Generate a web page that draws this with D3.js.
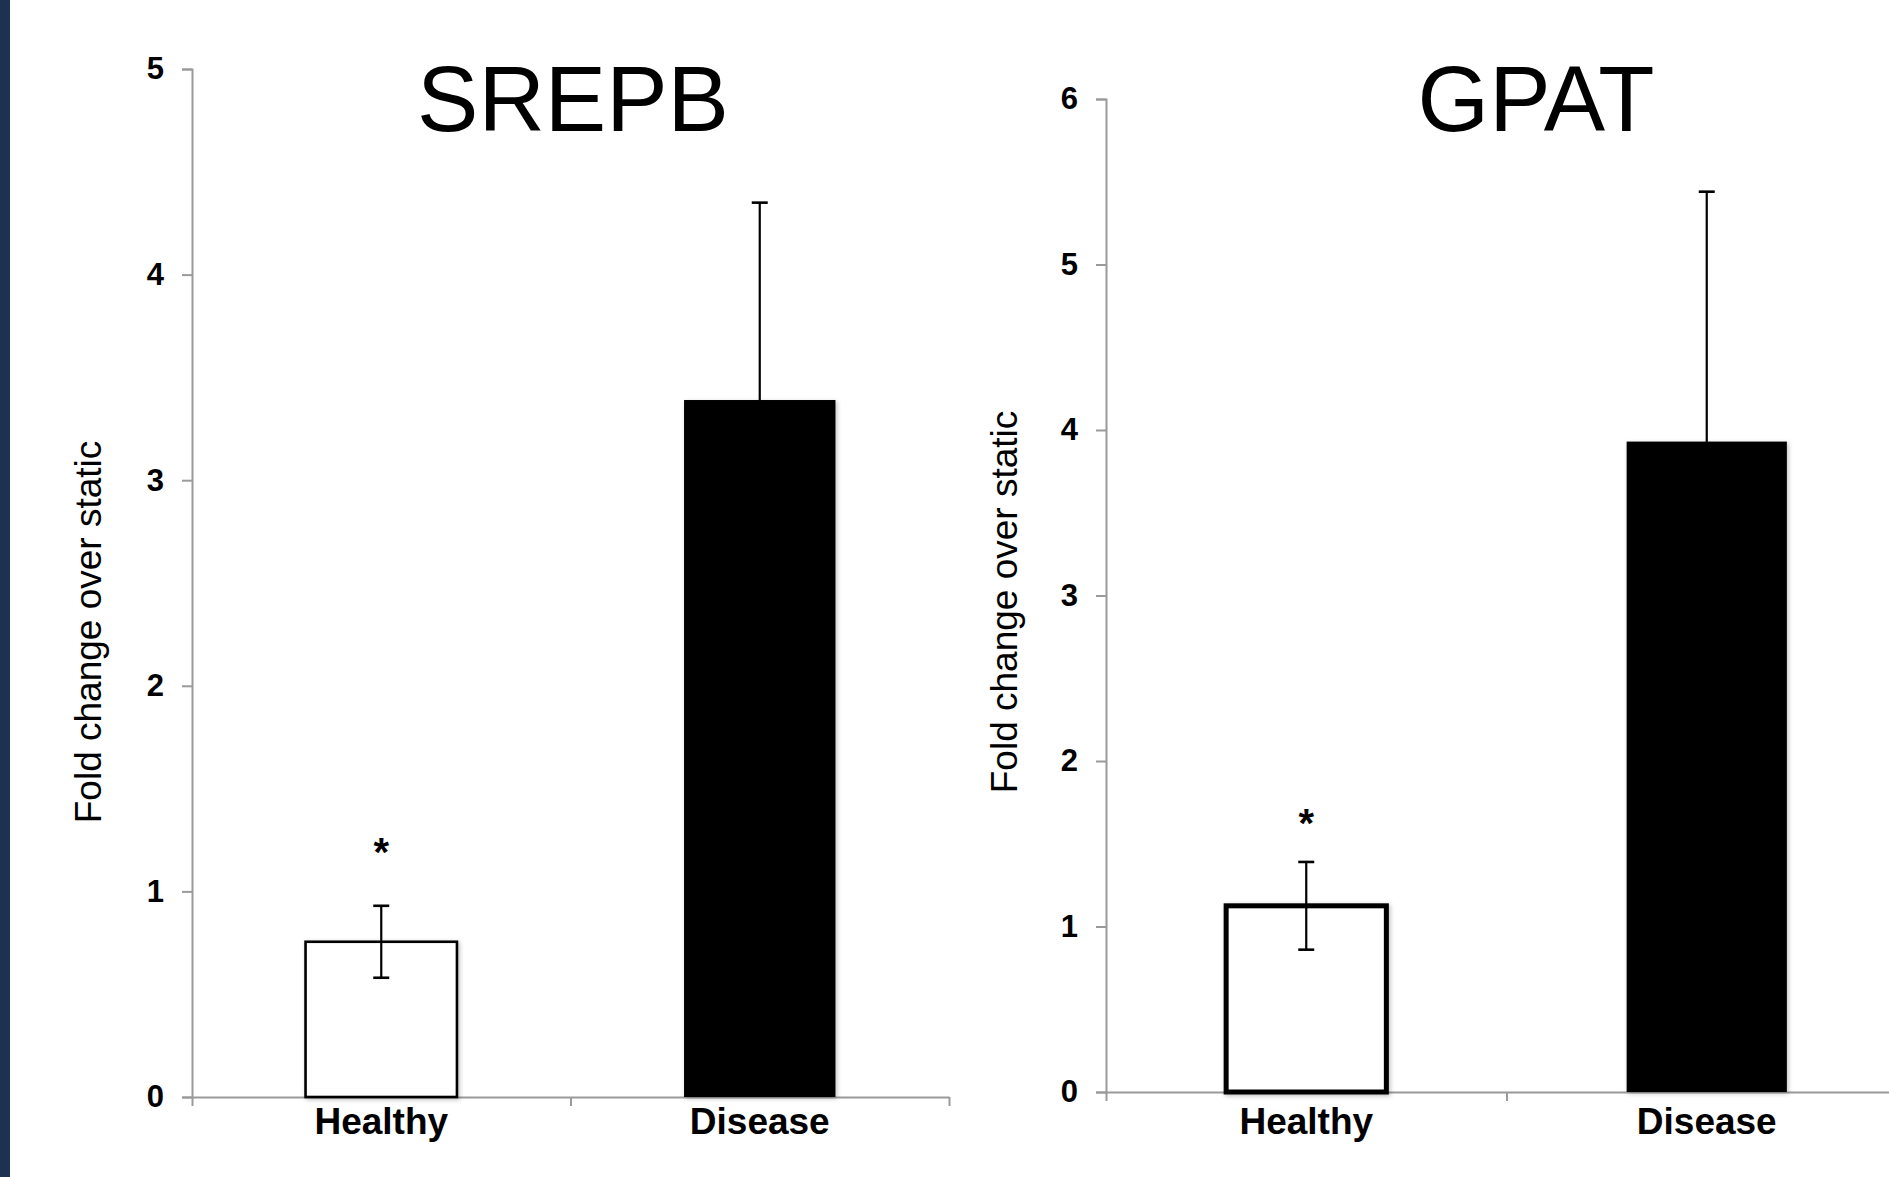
<!DOCTYPE html>
<html>
<head>
<meta charset="utf-8">
<script src="https://cdn.jsdelivr.net/npm/d3@7"></script>
<style>
  body { margin: 0; background: #fff; }
  svg { display: block; font-family: "Liberation Sans", Arial, sans-serif; }
</style>
</head>
<body>
<svg id="chart"></svg>
<script>
const categories = ['Healthy', 'Disease'];
const srepbMeans = [0.755, 3.39];
const srepbErrors = [0.175, 0.96];
const gpatMeans = [1.125, 3.93];
const gpatErrors = [0.265, 1.51];
const sigMarks = ['*', ''];
const srepbTicks = [0, 1, 2, 3, 4, 5];
const gpatTicks = [0, 1, 2, 3, 4, 5, 6];
const yLabel = 'Fold change over static';

const width = 1889, height = 1177;
const svg = d3.select('#chart').attr('width', width).attr('height', height);

// soft shadow like the slide export
const defs = svg.append('defs');
defs.append('filter').attr('id', 'shadow')
  .attr('x', '-10%').attr('y', '-10%').attr('width', '120%').attr('height', '120%')
  .append('feDropShadow')
  .attr('dx', 1.5).attr('dy', 1.5).attr('stdDeviation', 2)
  .attr('flood-color', '#000').attr('flood-opacity', 0.25);

// dark strip on the left edge
svg.append('rect').attr('x', 0).attr('y', 0).attr('width', 10).attr('height', height).attr('fill', '#1d3253');

function drawPanel(opt) {
  const y = d3.scaleLinear().domain([0, d3.max(opt.ticks)]).range([opt.y0, opt.y1]);
  const x = d3.scaleBand().domain(categories).range([opt.x0, opt.x1])
    .paddingInner(0.6).paddingOuter(0.3);
  const xEdge = d3.scaleLinear().domain([0, categories.length]).range([opt.x0, opt.x1]);

  const g = svg.append('g');

  // y axis
  const yAxis = g.append('g')
    .attr('transform', `translate(${opt.x0},0)`)
    .call(d3.axisLeft(y).tickValues(opt.ticks).tickFormat(d3.format('d')).tickSize(10).tickSizeOuter(10).tickPadding(18));
  yAxis.selectAll('path, line').attr('stroke', '#9a9a9a').attr('stroke-width', 2);
  yAxis.selectAll('text').attr('fill', '#000').style('font-size', '31px').style('font-weight', 'bold');

  // x axis with ticks at category boundaries
  const xAxis = g.append('g')
    .attr('transform', `translate(0,${opt.y0})`)
    .call(d3.axisBottom(xEdge).tickValues(d3.range(categories.length + 1)).tickFormat('').tickSize(9).tickSizeOuter(0));
  xAxis.selectAll('path, line').attr('stroke', '#9a9a9a').attr('stroke-width', 2);

  const xLabels = g.append('g')
    .attr('transform', `translate(0,${opt.y0})`)
    .call(d3.axisBottom(x).tickSize(0));
  xLabels.select('.domain').remove();
  xLabels.selectAll('text').attr('fill', '#000').attr('dy', 0).attr('y', 1134 - opt.y0)
    .style('font-size', '37px').style('font-weight', 'bold');

  const rows = categories.map((c, i) => ({ cat: c, mean: opt.means[i], err: opt.errors[i], sig: sigMarks[i], i }));

  // bars
  g.selectAll('rect.bar').data(rows).enter().append('rect')
    .attr('class', 'bar')
    .attr('x', d => x(d.cat))
    .attr('y', d => y(d.mean))
    .attr('width', x.bandwidth())
    .attr('height', d => y(0) - y(d.mean))
    .attr('fill', d => d.i === 0 ? '#fff' : '#000')
    .attr('stroke', '#000')
    .attr('stroke-width', d => d.i === 0 ? opt.outline : 0)
    .attr('filter', 'url(#shadow)');

  // error bars
  const cap = 8;
  const eb = g.selectAll('g.err').data(rows).enter().append('g').attr('class', 'err')
    .attr('transform', d => `translate(${x(d.cat) + x.bandwidth() / 2},0)`);
  eb.append('line')
    .attr('y1', d => y(d.mean - d.err)).attr('y2', d => y(d.mean + d.err))
    .attr('stroke', '#000').attr('stroke-width', 2.2);
  eb.append('line')
    .attr('x1', -cap).attr('x2', cap)
    .attr('y1', d => y(d.mean + d.err)).attr('y2', d => y(d.mean + d.err))
    .attr('stroke', '#000').attr('stroke-width', 2.6);
  eb.append('line')
    .attr('x1', -cap).attr('x2', cap)
    .attr('y1', d => y(d.mean - d.err)).attr('y2', d => y(d.mean - d.err))
    .attr('stroke', '#000').attr('stroke-width', 2.6);

  // significance marks
  g.selectAll('text.sig').data(rows.filter(d => d.sig)).enter().append('text')
    .attr('class', 'sig')
    .attr('x', d => x(d.cat) + x.bandwidth() / 2)
    .attr('y', d => y(d.mean + d.err) - opt.sigGap)
    .attr('text-anchor', 'middle')
    .style('font-size', '40px').style('font-weight', 'bold')
    .text(d => d.sig);

  // title
  g.append('text')
    .attr('x', opt.titleX).attr('y', 131)
    .attr('text-anchor', 'middle')
    .style('font-size', '92px')
    .text(opt.title);

  // y label
  g.append('text')
    .attr('transform', `translate(${opt.labelX},${opt.labelY}) rotate(-90)`)
    .attr('text-anchor', 'middle')
    .style('font-size', '37px')
    .text(yLabel);
}

drawPanel({
  title: 'SREPB', titleX: 573,
  means: srepbMeans, errors: srepbErrors, ticks: srepbTicks,
  x0: 192, x1: 949, y0: 1097, y1: 69,
  outline: 2.6, sigGap: 40,
  labelX: 101, labelY: 632
});

drawPanel({
  title: 'GPAT', titleX: 1536,
  means: gpatMeans, errors: gpatErrors, ticks: gpatTicks,
  x0: 1106, x1: 1907, y0: 1092, y1: 99,
  outline: 5, sigGap: 25,
  labelX: 1017, labelY: 602
});
</script>
</body>
</html>
